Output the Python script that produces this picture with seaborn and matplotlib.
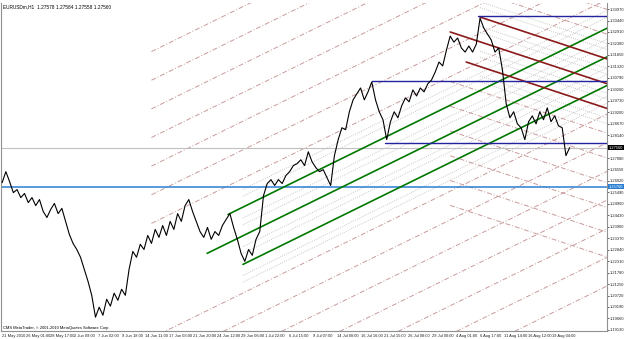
import matplotlib
matplotlib.use('Agg')
import matplotlib.pyplot as plt
import numpy as np
import pandas as pd
import seaborn as sns

### PRICE DATA: EURUSDm H1, one close read every 10 bars
bar_step = 10
close_prices = [
    1.2594, 1.2645, 1.2599, 1.2548, 1.2562, 1.2525, 1.2544, 1.2502, 1.2525, 1.2488,
    1.2516, 1.2461, 1.2433, 1.2470, 1.2498, 1.2451, 1.2475, 1.2415, 1.2355, 1.2313,
    1.2285, 1.2249, 1.2193, 1.2138, 1.2073, 1.1972, 1.2018, 1.1981, 1.2055, 1.2023,
    1.2083, 1.2050, 1.2101, 1.2073, 1.2193, 1.2276, 1.2249, 1.2309, 1.2285, 1.2350,
    1.2313, 1.2378, 1.2341, 1.2396, 1.2350, 1.2415, 1.2378, 1.2451, 1.2415, 1.2488,
    1.2516, 1.2461, 1.2415, 1.2368, 1.2341, 1.2387, 1.2332, 1.2368, 1.2350, 1.2396,
    1.2424, 1.2451, 1.2387, 1.2332, 1.2267, 1.2230, 1.2285, 1.2258, 1.2332, 1.2368,
    1.2534, 1.2590, 1.2608, 1.2581, 1.2608, 1.2590, 1.2627, 1.2645, 1.2673, 1.2682,
    1.2700, 1.2673, 1.2737, 1.2691, 1.2664, 1.2645, 1.2654, 1.2617, 1.2581, 1.2719,
    1.2793, 1.2848, 1.2839, 1.2922, 1.2977, 1.3005, 1.3032, 1.2977, 1.3014, 1.3060,
    1.2977, 1.2922, 1.2885, 1.2793, 1.2876, 1.2922, 1.2894, 1.2949, 1.2986, 1.2968,
    1.3023, 1.2995, 1.3032, 1.3014, 1.3051, 1.3069, 1.3106, 1.3152, 1.3134, 1.3207,
    1.3272, 1.3244, 1.3263, 1.3217, 1.3198, 1.3226, 1.3198, 1.3235, 1.3355, 1.3309,
    1.3281, 1.3254, 1.3198, 1.3217, 1.3115, 1.2959, 1.2894, 1.2922, 1.2866, 1.2848,
    1.2793, 1.2876, 1.2903, 1.2866, 1.2922, 1.2885, 1.2940, 1.2876, 1.2903, 1.2857,
    1.2848, 1.2719, 1.2756,
]

### TIME AXIS LABELS, one every 64 bars
label_step = 64
date_labels = [
    '21 May 2010', '26 May 01:00', '28 May 17:00', '2 Jun 09:00', '7 Jun 02:00',
    '9 Jun 18:00', '14 Jun 11:00', '17 Jun 03:00', '21 Jun 20:00', '24 Jun 12:00',
    '29 Jun 06:00', '1 Jul 22:00', '6 Jul 15:00', '9 Jul 07:00', '14 Jul 00:00',
    '16 Jul 16:00', '21 Jul 15:00', '26 Jul 08:00', '29 Jul 00:00', '4 Aug 01:00',
    '6 Aug 17:00', '11 Aug 14:00', '16 Aug 12:00', '19 Aug 04:00',
]

### PRICE SCALE
price_ticks = [
    1.33970, 1.33440, 1.32910, 1.32380, 1.31850, 1.31320, 1.30790, 1.30260,
    1.29730, 1.29200, 1.28670, 1.28140, 1.27610, 1.27080, 1.26550, 1.26020,
    1.25490, 1.24960, 1.24430, 1.23900, 1.23370, 1.22840, 1.22310, 1.21780,
    1.21250, 1.20720, 1.20190, 1.19660, 1.19130,
]
price_min, price_max = 1.1908, 1.3425
bar_min, bar_max = -3, 1620

### HORIZONTAL OBJECTS
blue_level = 1.2576
bid_level = 1.2756
navy_start_bars = [1275, 991, 1026]
navy_levels = [1.3364, 1.3065, 1.2779]

### PITCHFORKS (pivot 1 = handle, pivots 2/3 = tines)
green_pivot_bars = [549, 605, 645]
green_pivot_prices = [1.2267, 1.2447, 1.2216]
red_pivot_bars = [1200, 1280, 1243]
red_pivot_prices = [1.3291, 1.3360, 1.3152]

grey_levels = [0.382, 0.618, 1.382, 1.618]
green_pink_levels = [2, 3, 4, 5, 6, 7, 8]
green_pink_start = 400
red_pink_levels = [2, 3, 4, 5, 6, 7]

PINK = '#c99a9a'
GREY = '#b9b9b9'
FONT = ['Liberation Sans', 'DejaVu Sans']


def pitchfork(ax, bars, prices, color, pink_start, pink_levels):
    # median from handle through the midpoint of the two tines
    mid_bar = (bars[1] + bars[2]) / 2
    mid_price = (prices[1] + prices[2]) / 2
    slope = (mid_price - prices[0]) / (mid_bar - bars[0])
    half = prices[1] - (prices[0] + slope * (bars[1] - bars[0]))

    def level(k, start):
        x = np.array([start, bar_max])
        y = prices[0] + slope * (x - bars[0]) + k * half
        return x, y

    tine_start = max(bars[1], bars[2])
    for k in grey_levels:
        for s in (1, -1):
            x, y = level(s * k, tine_start)
            ax.plot(x, y, color=GREY, lw=0.6, ls=(0, (1, 1.5)), zorder=1)
    for k in pink_levels:
        for s in (1, -1):
            x, y = level(s * k, pink_start)
            ax.plot(x, y, color=PINK, lw=0.7, ls=(0, (5, 2, 1, 2)), zorder=1)
    for k, start in zip([0, 1, -1], bars):
        x, y = level(k, start)
        ax.plot(x, y, color=color, lw=1.2, zorder=3)


def main():
    sns.set_style('white')
    plt.rcParams['font.family'] = FONT

    df = pd.DataFrame({'bar': np.arange(len(close_prices)) * bar_step,
                       'close': close_prices})

    fig = plt.figure(figsize=(6.25, 3.39), dpi=100)
    ax = fig.add_axes([1 / 625, 1 - 331 / 339, 606 / 625, 328 / 339])

    ### CHART OBJECTS
    pitchfork(ax, green_pivot_bars, green_pivot_prices, '#007800', green_pink_start, green_pink_levels)
    pitchfork(ax, red_pivot_bars, red_pivot_prices, '#8b1a1a', red_pivot_bars[0], red_pink_levels)

    ax.axhline(bid_level, color='#c0c0c0', lw=0.8, zorder=2)
    ax.axhline(blue_level, color='#2a7fd4', lw=1.1, zorder=2)
    for start, lvl in zip(navy_start_bars, navy_levels):
        ax.plot([start, bar_max], [lvl, lvl], color='#2323a0', lw=1.0, zorder=3)

    ### PRICE
    sns.lineplot(data=df, x='bar', y='close', ax=ax, color='black', lw=0.8, zorder=5)

    ax.set_xlim(bar_min, bar_max)
    ax.set_ylim(price_min, price_max)
    ax.set_xlabel('')
    ax.set_ylabel('')

    ax.yaxis.tick_right()
    ax.set_yticks(price_ticks)
    ax.set_yticklabels([f'{p:.5f}' for p in price_ticks])
    ax.set_xticks(np.arange(len(date_labels)) * label_step)
    ax.set_xticklabels(date_labels, ha='left')
    ax.tick_params(axis='both', labelsize=2.9, length=1.5, width=0.5, pad=0.8, colors='#222222')
    for side in ['left', 'right', 'bottom']:
        ax.spines[side].set_color('#909090')
        ax.spines[side].set_linewidth(0.8)
    ax.spines['top'].set_visible(False)

    ### PRICE BOXES ON THE SCALE
    box = dict(boxstyle='square,pad=0.2', ec='none')
    ax.annotate(f'{bid_level:.5f}', xy=(1.003, bid_level), xycoords=('axes fraction', 'data'),
                va='center', ha='left', fontsize=2.9, color='white', bbox={**box, 'fc': 'black'})
    ax.annotate(f'{blue_level:.5f}', xy=(1.003, blue_level), xycoords=('axes fraction', 'data'),
                va='center', ha='left', fontsize=2.9, color='white', bbox={**box, 'fc': '#2a7fd4'})

    ### TEXTS
    ax.text(0.004, 0.997, 'EURUSDm,H1  1.27578 1.27584 1.27558 1.27560', transform=ax.transAxes,
            fontsize=3.4, va='top', ha='left', color='black')
    ax.text(0.004, 0.004, 'CMS MetaTrader, \u00a9 2001-2010 MetaQuotes Software Corp.', transform=ax.transAxes,
            fontsize=2.9, va='bottom', ha='left', color='black')

    fig.savefig('out.png', dpi=100, facecolor='white')


if __name__ == '__main__':
    main()
